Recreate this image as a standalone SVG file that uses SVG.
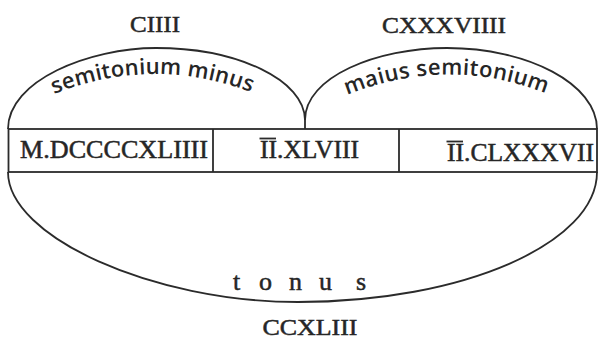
<svg xmlns="http://www.w3.org/2000/svg" width="599" height="340" viewBox="0 0 599 340">
<style>
.ln{fill:none;stroke:#2b2b2b;stroke-width:1.8}
.rom{font-family:"Liberation Serif","Times New Roman",serif;font-size:24px;fill:#262626;stroke:#262626;stroke-width:0.5}
.cell{font-family:"Liberation Serif","Times New Roman",serif;font-size:25px;fill:#262626;stroke:#262626;stroke-width:0.5}
.arc{font-family:"Open Sans","Noto Sans",sans-serif;font-size:22px;font-weight:600;fill:#262626}
.ton{font-family:"Liberation Serif","Times New Roman",serif;font-size:26px;fill:#262626;stroke:#262626;stroke-width:0.5}
</style>
<defs>
<path id="pL" d="M 54 94 Q 155 54 256 94"/>
<path id="pR" d="M 347 95 Q 449 54 550 95"/>
</defs>
<rect width="599" height="340" fill="#ffffff"/>
<g id="connectors">
<path class="ln" d="M 8 129 C 8 80.4 89.4 48 156 48 C 238 48 305 80.4 305 120 L 305 129"/>
<path class="ln" d="M 305 120 C 305 76.8 377 48 447 48 C 528 48 597 84 597 129"/>
<path class="ln" d="M 8 172 C 8 237 153 302 298 302 C 462.5 302 597 243.5 597 172"/>
</g>
<g id="table">
<rect class="ln" x="8.5" y="129" width="588.5" height="43"/>
<line class="ln" x1="213" y1="129" x2="213" y2="172"/>
<line class="ln" x1="399" y1="129" x2="399" y2="172"/>
</g>
<g id="cell1"><text class="cell" x="20" y="158" textLength="188" lengthAdjust="spacingAndGlyphs">M.DCCCCXLIIII</text></g>
<g id="cell2"><text class="cell" x="260" y="158" textLength="99" lengthAdjust="spacingAndGlyphs">II.XLVIII</text>
<line class="ln" x1="259.5" y1="138.5" x2="276" y2="138.5" stroke-width="1.6"/></g>
<g id="cell3"><text class="cell" x="447" y="161" textLength="147" lengthAdjust="spacingAndGlyphs">II.CLXXXVII</text>
<line class="ln" x1="446.5" y1="141.5" x2="463" y2="141.5" stroke-width="1.6"/></g>
<g id="minus">
<text class="rom" x="155" y="32" text-anchor="middle" textLength="50" lengthAdjust="spacingAndGlyphs">CIIII</text>
<text class="arc"><textPath href="#pL" textLength="202" lengthAdjust="spacing">semitonium minus</textPath></text>
</g>
<g id="maius">
<text class="rom" x="444" y="33" text-anchor="middle" textLength="124" lengthAdjust="spacingAndGlyphs">CXXXVIIII</text>
<text class="arc"><textPath href="#pR" textLength="204" lengthAdjust="spacing">maius semitonium</textPath></text>
</g>
<g id="tonus">
<text class="ton" x="233 259 289 319 356" y="290">tonus</text>
<text class="rom" x="310" y="335" text-anchor="middle" textLength="95" lengthAdjust="spacingAndGlyphs">CCXLIII</text>
</g>
</svg>
